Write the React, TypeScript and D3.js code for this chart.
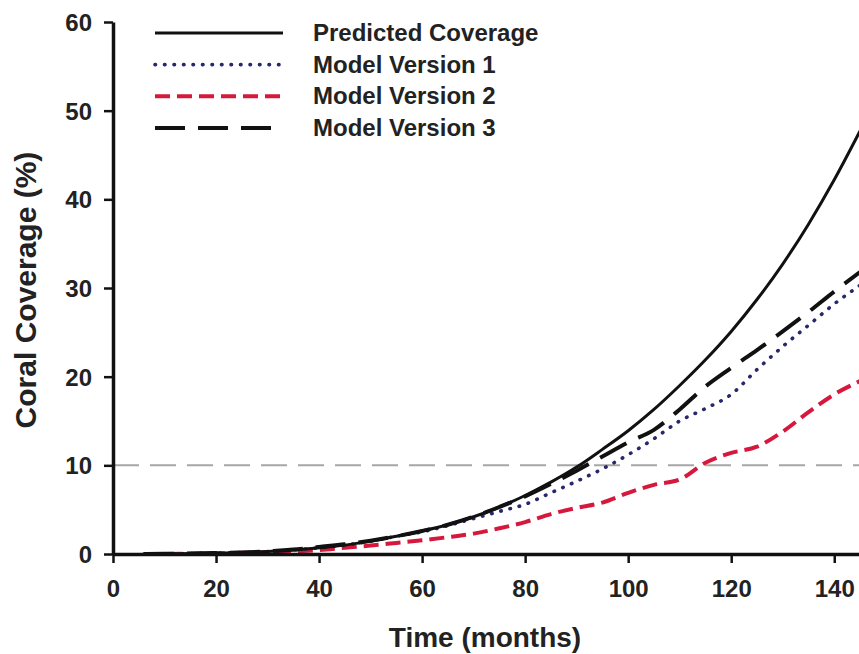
import React, { useEffect, useRef } from 'react';
import * as d3 from 'd3';

// months sampled along the curves
const months = [6, 10, 15, 20, 25, 30, 35, 40, 45, 50, 55, 60, 65, 70, 75, 80, 85, 90, 95, 100, 105, 110, 115, 120, 125, 130, 135, 140, 145];

const predicted = [0, 0.02, 0.05, 0.1, 0.17, 0.28, 0.45, 0.7, 1.0, 1.45, 2.0, 2.6, 3.3, 4.2, 5.3, 6.6, 8.1, 9.8, 11.8, 13.9, 16.3, 19.0, 21.9, 25.1, 28.7, 32.7, 37.2, 42.2, 47.7];
const version1 = [0, 0.02, 0.05, 0.1, 0.17, 0.28, 0.45, 0.7, 1.0, 1.45, 2.0, 2.5, 3.2, 4.0, 4.8, 5.6, 6.9, 8.2, 9.6, 11.2, 13.0, 15.0, 16.4, 18.0, 20.8, 23.4, 25.8, 28.2, 30.3];
const version2 = [0, 0.01, 0.03, 0.08, 0.13, 0.2, 0.3, 0.45, 0.7, 0.95, 1.25, 1.55, 1.9, 2.3, 2.9, 3.6, 4.5, 5.2, 5.8, 6.9, 7.8, 8.4, 10.3, 11.4, 12.1, 13.8, 16.0, 18.0, 19.5];
const version3 = [0, 0.02, 0.05, 0.1, 0.17, 0.3, 0.5, 0.8, 1.1, 1.5, 2.0, 2.6, 3.3, 4.2, 5.3, 6.5, 7.9, 9.4, 11.0, 12.6, 14.0, 16.3, 18.9, 21.0, 23.0, 25.1, 27.3, 29.6, 31.8];

const threshold = 10;

const xTicks = [0, 20, 40, 60, 80, 100, 120, 140];
const yTicks = [0, 10, 20, 30, 40, 50, 60];

const seriesNames = ['Predicted Coverage', 'Model Version 1', 'Model Version 2', 'Model Version 3'];

const FONT = '"Liberation Sans", Arial, sans-serif';

export default function App() {
    const ref = useRef<SVGSVGElement>(null);

    useEffect(() => {
        const svgWidth = 859, svgHeight = 654;
        const svg = d3.select(ref.current).attr('width', svgWidth).attr('height', svgHeight);
        svg.selectAll('*').remove();

        const x = d3.scaleLinear().domain([0, 145]).range([113, 860]);
        const y = d3.scaleLinear().domain([0, 60]).range([554, 22]);

        // threshold line at 10%
        svg.append('line')
            .attr('x1', x(0)).attr('x2', x(145))
            .attr('y1', y(threshold)).attr('y2', y(threshold))
            .attr('stroke', '#a6a6a6')
            .attr('stroke-width', 2)
            .attr('stroke-dasharray', '26,11');

        const styles = [
            { values: predicted, color: '#111', width: 3, dash: null, cap: 'butt' },
            { values: version1, color: '#26286b', width: 3.6, dash: '0.5,9', cap: 'round' },
            { values: version2, color: '#d6183d', width: 4, dash: '15,7', cap: 'butt' },
            { values: version3, color: '#111', width: 4, dash: '30,13', cap: 'butt' },
        ];

        const line = d3.line<number>()
            .x((d, i) => x(months[i]))
            .y(d => y(d))
            .curve(d3.curveMonotoneX);

        // draw red and dotted first, solid and long dash on top
        [2, 1, 0, 3].forEach(k => {
            const s = styles[k];
            svg.append('path')
                .attr('d', line(s.values))
                .attr('fill', 'none')
                .attr('stroke', s.color)
                .attr('stroke-width', s.width)
                .attr('stroke-linecap', s.cap)
                .attr('stroke-dasharray', s.dash);
        });

        // axes
        const xAxis = svg.append('g')
            .attr('transform', 'translate(0,' + y(0) + ')')
            .call(d3.axisBottom(x).tickValues(xTicks).tickSize(9).tickSizeOuter(0).tickPadding(17));
        const yAxis = svg.append('g')
            .attr('transform', 'translate(' + x(0) + ',0)')
            .call(d3.axisLeft(y).tickValues(yTicks).tickSize(9).tickSizeOuter(0).tickPadding(12));

        [xAxis, yAxis].forEach(g => {
            g.select('.domain').attr('stroke', '#111').attr('stroke-width', 3.5);
            g.selectAll('.tick line').attr('stroke', '#111').attr('stroke-width', 2.5);
            g.selectAll('.tick text')
                .attr('fill', '#222')
                .style('font-family', FONT)
                .style('font-weight', 'bold')
                .style('font-size', '24px');
        });
        yAxis.selectAll('.tick text').attr('dy', '0.36em');

        // axis titles
        svg.append('text')
            .attr('x', 485).attr('y', 647)
            .attr('text-anchor', 'middle')
            .attr('fill', '#222')
            .style('font-family', FONT).style('font-weight', 'bold').style('font-size', '28px')
            .text('Time (months)');
        svg.append('text')
            .attr('transform', 'translate(36,290) rotate(-90)')
            .attr('text-anchor', 'middle')
            .attr('fill', '#222')
            .style('font-family', FONT).style('font-weight', 'bold').style('font-size', '30px')
            .text('Coral Coverage (%)');

        // legend
        const legend = svg.append('g');
        const rowY = d3.scaleLinear().domain([0, 3]).range([33, 128]);
        seriesNames.forEach((name, i) => {
            const s = styles[i];
            legend.append('line')
                .attr('x1', 155).attr('x2', 283)
                .attr('y1', rowY(i)).attr('y2', rowY(i))
                .attr('stroke', s.color)
                .attr('stroke-width', s.width)
                .attr('stroke-linecap', s.cap)
                .attr('stroke-dasharray', s.dash);
            legend.append('text')
                .attr('x', 313).attr('y', rowY(i) + 8)
                .attr('fill', '#222')
                .style('font-family', FONT).style('font-weight', 'bold').style('font-size', '24px')
                .text(name);
        });
    }, []);

    return (
        <div style={{ position: 'absolute', left: 0, top: 0 }}>
            <svg ref={ref} style={{ display: 'block', background: '#fff' }}></svg>
        </div>
    );
}
